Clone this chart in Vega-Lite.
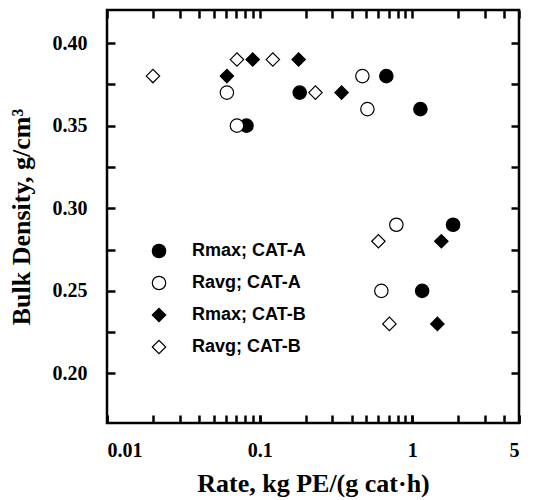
{
  "$schema": "https://vega.github.io/schema/vega-lite/v6.json",
  "width": 412,
  "height": 413,
  "autosize": {"type": "none"},
  "padding": {"left": 107, "top": 10, "right": 14, "bottom": 77},
  "background": "white",
  "config": {
    "view": {"stroke": "black", "strokeWidth": 2.5},
    "axis": {
      "grid": false,
      "domain": false,
      "ticks": true,
      "tickColor": "#000000",
      "tickWidth": 2.5,
      "tickSize": -8,
      "labelFont": "Liberation Serif",
      "labelFontWeight": "bold",
      "labelFontSize": 20,
      "labelColor": "black",
      "titleFont": "Liberation Serif",
      "titleFontWeight": "bold",
      "titleFontSize": 26,
      "titleColor": "black"
    },
    "legend": {
      "orient": "none",
      "legendX": 43,
      "legendY": 232,
      "symbolSize": 180,
      "symbolStrokeWidth": 1.2,
      "symbolStrokeColor": "black",
      "labelFont": "Liberation Sans",
      "labelFontWeight": "bold",
      "labelFontSize": 18,
      "labelColor": "black",
      "labelOffset": 24,
      "rowPadding": 12
    }
  },
  "data": {
    "values": [
      {"rate": 0.082, "density": 0.35, "series": "Rmax; CAT-A"},
      {"rate": 0.183, "density": 0.37, "series": "Rmax; CAT-A"},
      {"rate": 0.676, "density": 0.38, "series": "Rmax; CAT-A"},
      {"rate": 1.13, "density": 0.36, "series": "Rmax; CAT-A"},
      {"rate": 1.85, "density": 0.29, "series": "Rmax; CAT-A"},
      {"rate": 1.16, "density": 0.25, "series": "Rmax; CAT-A"},
      {"rate": 0.061, "density": 0.37, "series": "Ravg; CAT-A"},
      {"rate": 0.071, "density": 0.35, "series": "Ravg; CAT-A"},
      {"rate": 0.471, "density": 0.38, "series": "Ravg; CAT-A"},
      {"rate": 0.508, "density": 0.36, "series": "Ravg; CAT-A"},
      {"rate": 0.786, "density": 0.29, "series": "Ravg; CAT-A"},
      {"rate": 0.627, "density": 0.25, "series": "Ravg; CAT-A"},
      {"rate": 0.061, "density": 0.38, "series": "Rmax; CAT-B"},
      {"rate": 0.09, "density": 0.39, "series": "Rmax; CAT-B"},
      {"rate": 0.18, "density": 0.39, "series": "Rmax; CAT-B"},
      {"rate": 0.344, "density": 0.37, "series": "Rmax; CAT-B"},
      {"rate": 1.55, "density": 0.28, "series": "Rmax; CAT-B"},
      {"rate": 1.46, "density": 0.23, "series": "Rmax; CAT-B"},
      {"rate": 0.02, "density": 0.38, "series": "Ravg; CAT-B"},
      {"rate": 0.071, "density": 0.39, "series": "Ravg; CAT-B"},
      {"rate": 0.122, "density": 0.39, "series": "Ravg; CAT-B"},
      {"rate": 0.232, "density": 0.37, "series": "Ravg; CAT-B"},
      {"rate": 0.6, "density": 0.28, "series": "Ravg; CAT-B"},
      {"rate": 0.708, "density": 0.23, "series": "Ravg; CAT-B"}
    ]
  },
  "layer": [
    {
      "mark": {"type": "point", "filled": true, "size": 180, "strokeWidth": 1.2, "opacity": 1},
      "encoding": {
        "x": {
          "field": "rate", "type": "quantitative",
          "scale": {"type": "log", "domain": [0.01, 5]},
          "axis": {"orient": "bottom", "labels": false, "title": null, "ticks": true, "tickSize": -8, "tickColor": "#000000", "tickWidth": 2.5}
        },
        "y": {
          "field": "density", "type": "quantitative",
          "scale": {"domain": [0.17, 0.42], "nice": false, "zero": false},
          "axis": {
            "orient": "left",
            "values": [0.2, 0.225, 0.25, 0.275, 0.3, 0.325, 0.35, 0.375, 0.4],
            "labelExpr": "round(datum.value * 1000) % 50 == 0 ? format(datum.value, '.2f') : ''",
            "ticks": true, "tickSize": -8, "tickColor": "#000000", "tickWidth": 2.5,
            "labelPadding": 28,
            "title": "Bulk Density, g/cm³",
            "titlePadding": 18
          }
        },
        "shape": {
          "field": "series", "type": "nominal",
          "scale": {"domain": ["Rmax; CAT-A", "Ravg; CAT-A", "Rmax; CAT-B", "Ravg; CAT-B"], "range": ["circle", "circle", "diamond", "diamond"]},
          "legend": {"title": null}
        },
        "fill": {
          "field": "series", "type": "nominal",
          "scale": {"domain": ["Rmax; CAT-A", "Ravg; CAT-A", "Rmax; CAT-B", "Ravg; CAT-B"], "range": ["black", "white", "black", "white"]},
          "legend": {"title": null}
        },
        "stroke": {
          "field": "series", "type": "nominal",
          "scale": {"domain": ["Rmax; CAT-A", "Ravg; CAT-A", "Rmax; CAT-B", "Ravg; CAT-B"], "range": ["black", "black", "black", "black"]},
          "legend": {"title": null}
        }
      }
    },
    {
      "mark": {"type": "point", "opacity": 0},
      "encoding": {
        "x": {
          "field": "rate", "type": "quantitative",
          "scale": {"type": "log", "domain": [0.01, 5]},
          "axis": {
            "orient": "bottom",
            "values": [0.01, 0.1, 1, 5],
            "format": "~g",
            "ticks": true, "tickSize": -8, "tickColor": "#000000", "tickWidth": 2.5,
            "labelPadding": 25,
            "title": "Rate, kg PE/(g cat·h)",
            "titlePadding": 10
          }
        },
        "y": {
          "field": "density", "type": "quantitative",
          "scale": {"domain": [0.17, 0.42], "nice": false, "zero": false},
          "axis": {"orient": "right", "labels": false, "title": null,
            "values": [0.2, 0.225, 0.25, 0.275, 0.3, 0.325, 0.35, 0.375, 0.4],
            "ticks": true, "tickSize": -8, "tickColor": "#000000", "tickWidth": 2.5}
        }
      }
    },
    {
      "mark": {"type": "point", "opacity": 0},
      "encoding": {
        "x": {
          "field": "rate", "type": "quantitative",
          "scale": {"type": "log", "domain": [0.01, 5]},
          "axis": {"orient": "top", "labels": false, "title": null, "ticks": true, "tickSize": -8, "tickColor": "#000000", "tickWidth": 2.5}
        },
        "y": {
          "field": "density", "type": "quantitative",
          "scale": {"domain": [0.17, 0.42], "nice": false, "zero": false},
          "axis": null
        }
      }
    }
  ],
  "resolve": {"axis": {"x": "independent", "y": "independent"}}
}
